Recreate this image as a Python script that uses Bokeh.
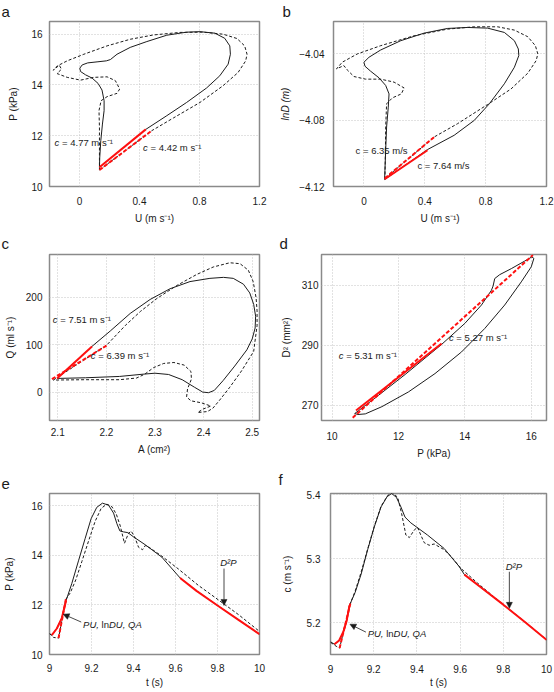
import numpy as np
from bokeh.plotting import figure
from bokeh.models import FixedTicker, CustomJSTickFormatter, Label, Arrow, NormalHead
from bokeh.layouts import column, row
from bokeh.embed import file_html
from bokeh.resources import INLINE

FONT = "Liberation Sans"
BLACK = "#1c1c1c"
RED = "#ff1010"
TXT = "#1a1a1a"
NB = "\u00a0"
SUP = "\u207b\u00b9"

# ---------------- data ----------------
# a: P (kPa) vs U (m/s)
a_solid_U = [0.133, 0.442, 0.582, 0.714, 0.847, 0.935, 0.991, 1.006, 1.002, 0.968, 0.902, 0.803, 0.714, 0.582,
             0.449, 0.338, 0.250, 0.206, 0.179, 0.117, 0.055, 0.018, 0.002, 0.007, 0.040, 0.084, 0.124, 0.150,
             0.164, 0.164, 0.153, 0.142, 0.135, 0.133]
a_solid_P = [10.76, 12.25, 12.79, 13.31, 13.88, 14.36, 14.82, 15.21, 15.54, 15.84, 16.04, 16.10, 16.08, 15.96,
             15.71, 15.48, 15.21, 15.00, 14.95, 14.91, 14.87, 14.79, 14.66, 14.53, 14.40, 14.27, 14.06, 13.80,
             13.38, 12.99, 12.46, 11.81, 11.15, 10.76]
a_dash_U = [0.133, 0.482, 0.626, 0.803, 0.957, 1.057, 1.108, 1.117, 1.101, 1.050, 0.957, 0.825, 0.670, 0.493,
            0.338, 0.184, 0.029, -0.082, -0.148, -0.175, -0.135, -0.120, -0.150, -0.082, 0.007, 0.095, 0.184,
            0.239, 0.268, 0.250, 0.184, 0.144, 0.130, 0.133, 0.133, 0.133]
a_dash_P = [10.65, 12.20, 12.70, 13.31, 13.97, 14.49, 14.95, 15.21, 15.54, 15.83, 16.00, 16.08, 16.07, 15.97,
            15.80, 15.54, 15.21, 14.95, 14.75, 14.58, 14.78, 14.62, 14.45, 14.30, 14.19, 14.30, 14.32,
            14.17, 13.84, 13.67, 13.54, 13.38, 12.99, 12.33, 11.41, 10.65]
a_fit_solid_U = [0.133, 0.442]
a_fit_solid_P = [10.76, 12.25]
a_fit_dash_U = [0.133, 0.482]
a_fit_dash_P = [10.65, 12.20]

# b: lnD vs U
b_solid_U = [0.136, 0.418, 0.593, 0.725, 0.824, 0.923, 0.989, 1.018, 1.015, 0.989, 0.923, 0.813, 0.681, 0.549,
             0.396, 0.242, 0.110, 0.033, 0.000, 0.007, 0.044, 0.099, 0.143, 0.165, 0.160, 0.149, 0.143, 0.138, 0.136]
b_solid_lnD = [-4.1158, -4.0977, -4.0891, -4.0801, -4.0701, -4.0580, -4.0480, -4.0410, -4.0370, -4.0320, -4.0270,
               -4.0244, -4.0240, -4.0246, -4.0274, -4.0320, -4.0376, -4.0420, -4.0450, -4.0474, -4.0504, -4.0544,
               -4.0590, -4.0641, -4.0721, -4.0841, -4.0981, -4.1102, -4.1158]
b_dash_U = [0.138, 0.462, 0.615, 0.813, 0.967, 1.077, 1.132, 1.143, 1.127, 1.077, 0.989, 0.879, 0.725, 0.549,
            0.330, 0.110, -0.044, -0.143, -0.180, -0.132, -0.110, -0.066, 0.011, 0.110, 0.198, 0.264, 0.246,
            0.187, 0.149, 0.143, 0.141, 0.138]
b_dash_lnD = [-4.1152, -4.0901, -4.0821, -4.0705, -4.0611, -4.0516, -4.0440, -4.0400, -4.0350, -4.0296, -4.0256,
              -4.0236, -4.0236, -4.0250, -4.0290, -4.0350, -4.0400, -4.0450, -4.0490, -4.0470, -4.0496, -4.0536,
              -4.0552, -4.0552, -4.0570, -4.0605, -4.0641, -4.0665, -4.0701, -4.0841, -4.1002, -4.1152]
b_fit_solid_U = [0.136, 0.418]
b_fit_solid_lnD = [-4.1156, -4.0981]
b_fit_dash_U = [0.138, 0.462]
b_fit_dash_lnD = [-4.1150, -4.0901]

# c: Q (ml/s) vs A (cm2)
c_solid_A = [2.0986, 2.170, 2.208, 2.249, 2.290, 2.331, 2.372, 2.413, 2.441, 2.461, 2.482, 2.495, 2.503, 2.507,
             2.506, 2.500, 2.489, 2.464, 2.440, 2.422, 2.410, 2.398, 2.381, 2.356, 2.328, 2.300, 2.276, 2.227,
             2.157, 2.0986]
c_solid_Q = [28.7, 95.9, 128.7, 165.7, 195.2, 217.8, 232.9, 239.7, 241.8, 239.7, 227.4, 208.9, 185.0, 160.0,
             135.0, 112.0, 89.0, 54.8, 24.0, 3.4, -1.4, 0.0, 10.3, 26.0, 37.0, 39.7, 37.7, 32.9, 30.1, 28.7]
c_dash_A = [2.091, 2.201, 2.239, 2.270, 2.304, 2.345, 2.386, 2.420, 2.454, 2.475, 2.492, 2.502, 2.508, 2.510,
            2.510, 2.503, 2.478, 2.454, 2.433, 2.419, 2.408, 2.388, 2.398, 2.415, 2.395, 2.374, 2.365, 2.367,
            2.375, 2.374, 2.360, 2.339, 2.318, 2.297, 2.279, 2.262, 2.227, 2.157, 2.091]
c_dash_Q = [25.3, 99.3, 140.4, 169.9, 197.3, 224.7, 248.0, 263.7, 272.6, 270.6, 256.9, 232.9, 198.6, 171.2,
            140.0, 85.6, 44.5, 10.3, -17.1, -34.2, -41.1, -43.2, -36.3, -29.5, -22.6, -18.5, -10.3, 6.8,
            27.4, 43.2, 56.8, 62.3, 60.3, 51.4, 37.7, 29.5, 26.0, 26.0, 25.3]
c_fit_solid_A = [2.0986, 2.1704]
c_fit_solid_Q = [28.7, 95.9]
c_fit_dash_A = [2.088, 2.2026]
c_fit_dash_Q = [27.3, 99.3]

# d: D^2 (mm2) vs P (kPa)
d_solid_P = [10.68, 10.80, 11.40, 12.20, 13.30, 14.00, 14.50, 14.80, 14.85, 14.90, 15.05, 15.40, 15.80, 16.02,
             16.08, 16.00, 15.70, 15.20, 14.60, 13.90, 13.10, 12.30, 11.50, 11.00, 10.78, 10.68]
d_solid_D2 = [267.3, 268.3, 273.4, 280.3, 290.3, 297.3, 303.4, 308.3, 309.7, 312.2, 313.5, 315.5, 318.0, 319.4,
              318.9, 316.1, 311.1, 303.4, 295.6, 287.8, 280.6, 274.5, 269.6, 267.2, 267.0, 267.3]
d_fit_solid_P = [10.72, 13.30]
d_fit_solid_D2 = [268.3, 290.6]
d_fit_dash_P = [10.62, 16.05]
d_fit_dash_D2 = [265.9, 320.0]

# e: P (kPa) vs t (s)
e_solid_t = [9.0, 9.011, 9.035, 9.059, 9.079, 9.106, 9.138, 9.170, 9.198, 9.225, 9.252, 9.281, 9.305, 9.321,
             9.335, 9.353, 9.373, 9.400, 9.456, 9.535, 9.622, 9.70, 9.80, 9.90, 10.0]
e_solid_P = [10.83, 10.78, 11.05, 11.48, 12.18, 12.86, 13.78, 14.69, 15.48, 15.94, 16.11, 16.03, 15.71, 15.28,
             14.99, 14.95, 14.92, 14.75, 14.43, 13.93, 13.09, 12.57, 11.98, 11.40, 10.82]
e_dash_t = [9.0, 9.019, 9.043, 9.078, 9.099, 9.125, 9.154, 9.186, 9.217, 9.246, 9.273, 9.297, 9.318, 9.337,
            9.357, 9.376, 9.389, 9.405, 9.424, 9.443, 9.456, 9.479, 9.535, 9.614, 9.709, 9.805, 9.900, 10.0]
e_dash_P = [10.86, 10.69, 10.66, 12.23, 12.49, 13.01, 13.75, 14.58, 15.37, 15.90, 16.07, 15.97, 15.67, 15.19,
            14.49, 14.89, 14.98, 14.76, 14.33, 14.23, 14.40, 14.30, 13.97, 13.45, 12.79, 12.20, 11.61, 10.93]
e_red_solid_windows = [(9.011, 9.079), (9.622, 10.0)]
e_red_dash_windows = [(9.043, 9.078)]

# f: c (m/s) vs t (s)
f_solid_t = [9.0, 9.018, 9.040, 9.060, 9.075, 9.088, 9.114, 9.142, 9.172, 9.203, 9.234, 9.262, 9.283, 9.305,
             9.326, 9.345, 9.372, 9.449, 9.526, 9.595, 9.620, 9.70, 9.80, 9.90, 10.0]
f_solid_c = [5.170, 5.166, 5.172, 5.186, 5.203, 5.227, 5.247, 5.276, 5.314, 5.350, 5.381, 5.397, 5.402, 5.396,
             5.381, 5.365, 5.356, 5.337, 5.316, 5.288, 5.275, 5.254, 5.228, 5.201, 5.173]
f_dash_t = [9.0, 9.026, 9.042, 9.092, 9.114, 9.142, 9.172, 9.203, 9.234, 9.265, 9.288, 9.311, 9.329, 9.349,
            9.365, 9.388, 9.403, 9.418, 9.434, 9.457, 9.480, 9.526, 9.557, 9.603, 9.680, 9.80, 9.90, 10.0]
f_dash_c = [5.169, 5.163, 5.160, 5.230, 5.249, 5.279, 5.315, 5.351, 5.382, 5.399, 5.403, 5.396, 5.371, 5.337,
            5.333, 5.345, 5.349, 5.337, 5.325, 5.321, 5.323, 5.314, 5.304, 5.285, 5.262, 5.228, 5.201, 5.173]
f_red_solid_windows = [(9.018, 9.088), (9.620, 10.0)]
f_red_dash_windows = [(9.042, 9.092)]

# tick values
a_xticks = [0, 0.4, 0.8, 1.2]
a_yticks = [10, 12, 14, 16]
b_yticks = [-4.12, -4.08, -4.04]
c_xticks = [2.1, 2.2, 2.3, 2.4, 2.5]
c_yticks = [0, 100, 200]
d_xticks = [10, 12, 14, 16]
d_yticks = [270, 290, 310]
t_ticks = [9, 9.2, 9.4, 9.6, 9.8, 10]
f_yticks = [5.2, 5.3, 5.4]


# ---------------- helpers ----------------
class Panel:
    def __init__(self, origin, size, frame, xr, yr, xt, yt, tick_st, lab_st, letter, letter_px,
                 letter_st, xlab, ylab, ylab_italic=False):
        ox, oy = origin
        w, h = size
        l, t, r, b = frame
        p = figure(width=w, height=h, x_range=xr, y_range=yr, output_backend="svg",
                   toolbar_location=None, tools="",
                   min_border_left=l - ox, min_border_right=ox + w - r,
                   min_border_top=t - oy, min_border_bottom=oy + h - b)
        p.background_fill_color = "white"
        p.border_fill_color = "white"
        p.outline_line_color = "#8a8a8a"
        p.outline_line_width = 1.5
        fmt = "return String(Math.round(tick*1000)/1000).replace('-', '\\u2212');"
        axes = ((p.xaxis[0], xt, tick_st[0], lab_st[0], xlab, False),
                (p.yaxis[0], yt, tick_st[1], lab_st[1], ylab, ylab_italic))
        for ax, ticks, st, lst, lab, ital in axes:
            ax.ticker = FixedTicker(ticks=ticks)
            ax.formatter = CustomJSTickFormatter(code=fmt)
            ax.axis_line_color = None
            ax.major_tick_line_color = None
            ax.minor_tick_line_color = None
            ax.major_tick_out = 0
            ax.major_tick_in = 0
            ax.minor_tick_out = 0
            ax.major_label_standoff = st
            ax.major_label_text_font = FONT
            ax.major_label_text_font_size = "10px"
            ax.major_label_text_color = TXT
            ax.axis_label = lab
            ax.axis_label_standoff = lst
            ax.axis_label_text_font = FONT
            ax.axis_label_text_font_size = "10px"
            ax.axis_label_text_font_style = "italic" if ital else "normal"
            ax.axis_label_text_color = TXT
        p.xgrid[0].ticker = FixedTicker(ticks=xt)
        p.ygrid[0].ticker = FixedTicker(ticks=yt)
        p.grid.grid_line_color = "#c4c4c4"
        p.grid.grid_line_dash = "1 2"
        p.grid.grid_line_width = 1
        # panel letter as the figure title
        p.title.text = letter
        p.title.align = "left"
        p.title.offset = letter_px - l
        p.title.vertical_align = "top"
        p.title.standoff = letter_st
        p.title.text_font = FONT
        p.title.text_font_size = "15px"
        p.title.text_font_style = "normal"
        p.title.text_color = TXT
        self.p = p

    def label(self, text, x, y, size="9.5px", style="normal", align="left", x_offset=0):
        self.p.add_layout(Label(x=x, y=y, text=text, text_font=FONT, text_font_size=size,
                                text_font_style=style, text_align=align, text_baseline="middle",
                                x_offset=x_offset, text_color=TXT))

    def clabel(self, x, y, rest):
        self.label("c", x, y, style="italic")
        self.label(NB + rest, x, y, x_offset=4.8)

    def pu_label(self, x, y):
        self.label("PU," + NB, x, y, style="italic")
        self.label("ln", x, y, x_offset=18.5)
        self.label("DU, QA", x, y, style="italic", x_offset=25.9)

    def black(self, xs, ys, dashed=False):
        if dashed:
            self.p.line(xs, ys, line_color=BLACK, line_width=1, line_dash="3 2")
        else:
            self.p.line(xs, ys, line_color=BLACK, line_width=1)

    def red(self, xs, ys, dashed=False):
        if dashed:
            self.p.line(xs, ys, line_color=RED, line_width=2, line_dash="4 2")
        else:
            self.p.line(xs, ys, line_color=RED, line_width=2)

    def arrow(self, x0, y0, x1, y1):
        self.p.add_layout(Arrow(end=NormalHead(size=6, fill_color=TXT, line_color=TXT, line_width=0.5),
                                x_start=x0, y_start=y0, x_end=x1, y_end=y1,
                                line_color=TXT, line_width=0.8))


def window(ts, vs, lo, hi):
    ts = np.asarray(ts)
    vs = np.asarray(vs)
    m = (ts >= lo - 1e-9) & (ts <= hi + 1e-9)
    return ts[m], vs[m]


# ---------------- panel a ----------------
A = Panel((0, 0), (277, 230), (49, 21, 259, 186), (-0.2, 1.2), (10, 16.5), a_xticks, a_yticks,
          (10, 7), (5, 9), "a", 1, 0, "U (m s" + SUP + ")", "P (kPa)")
A.black(a_dash_U, a_dash_P, dashed=True)
A.black(a_solid_U, a_solid_P)
A.red(a_fit_solid_U, a_fit_solid_P)
A.red(a_fit_dash_U, a_fit_dash_P, dashed=True)
A.clabel(-0.166, 11.72, "= 4.77 m s" + SUP)
A.clabel(0.424, 11.52, "= 4.42 m s" + SUP)

# ---------------- panel b ----------------
B = Panel((277, 0), (277, 230), (329, 21, 546, 186), (-0.2, 1.2), (-4.12, -4.0204), a_xticks, b_yticks,
          (10, 9), (5, 5), "b", 278, 0, "U (m s" + SUP + ")", "lnD (m)", ylab_italic=True)
B.black(b_dash_U, b_dash_lnD, dashed=True)
B.black(b_solid_U, b_solid_lnD)
B.red(b_fit_solid_U, b_fit_solid_lnD)
B.red(b_fit_dash_U, b_fit_dash_lnD, dashed=True)
B.label("c = 6.35 m/s", -0.055, -4.0985)
B.label("c = 7.64 m/s", 0.352, -4.1076)

# ---------------- panel c ----------------
C = Panel((0, 230), (277, 232), (49, 254, 259, 424), (2.083, 2.515), (-60, 290), c_xticks, c_yticks,
          (7, 7), (5, 7), "c", 1, 2, "A (cm\u00b2)", "Q (ml s" + SUP + ")")
C.black(c_dash_A, c_dash_Q, dashed=True)
C.black(c_solid_A, c_solid_Q)
C.red(c_fit_solid_A, c_fit_solid_Q)
C.red(c_fit_dash_A, c_fit_dash_Q, dashed=True)
C.clabel(2.0897, 154, "= 7.51 m s" + SUP)
C.clabel(2.168, 76, "= 6.39 m s" + SUP)

# ---------------- panel d ----------------
D = Panel((277, 230), (277, 232), (320, 254, 546, 420), (9.68, 16.46), (265, 320.2), d_xticks, d_yticks,
          (11, 3), (5, 7), "d", 278, 2, "P (kPa)", "D\u00b2 (mm\u00b2)")
D.black(d_solid_P, d_solid_D2)
D.red(d_fit_solid_P, d_fit_solid_D2)
D.red(d_fit_dash_P, d_fit_dash_D2, dashed=True)
D.clabel(10.2, 286.5, "= 5.31 m s" + SUP)
D.clabel(13.52, 292.6, "= 5.27 m s" + SUP)

# ---------------- panel e ----------------
E = Panel((0, 462), (277, 230), (49, 489, 259, 654), (9, 10), (10, 16.5), t_ticks, a_yticks,
          (9, 7), (2, 13), "e", 1, 6, "t (s)", "P (kPa)")
E.black(e_dash_t, e_dash_P, dashed=True)
E.black(e_solid_t, e_solid_P)
for lo, hi in e_red_solid_windows:
    E.red(*window(e_solid_t, e_solid_P, lo, hi))
for lo, hi in e_red_dash_windows:
    E.red(*window(e_dash_t, e_dash_P, lo, hi), dashed=True)
E.pu_label(9.160, 11.23)
E.arrow(9.151, 11.31, 9.065, 11.63)
E.label("D\u00b2P", 9.852, 13.72, style="italic", align="center")
E.arrow(9.831, 13.47, 9.831, 11.98)

# ---------------- panel f ----------------
F = Panel((277, 462), (277, 230), (330, 493, 546, 654), (9, 10), (5.15, 5.402), t_ticks, f_yticks,
          (10, 10), (1, 11), "f", 278, 8, "t (s)", "c (m s" + SUP + ")")
F.black(f_dash_t, f_dash_c, dashed=True)
F.black(f_solid_t, f_solid_c)
for lo, hi in f_red_solid_windows:
    F.red(*window(f_solid_t, f_solid_c, lo, hi))
for lo, hi in f_red_dash_windows:
    F.red(*window(f_dash_t, f_dash_c, lo, hi), dashed=True)
F.pu_label(9.172, 5.1834)
F.arrow(9.164, 5.1850, 9.090, 5.1974)
F.label("D\u00b2P", 9.849, 5.2878, style="italic", align="center")
F.arrow(9.828, 5.2795, 9.828, 5.2222)

layout = column(row(A.p, B.p), row(C.p, D.p), row(E.p, F.p))
open("out.html", "w", encoding="utf-8").write(file_html(layout, INLINE))
